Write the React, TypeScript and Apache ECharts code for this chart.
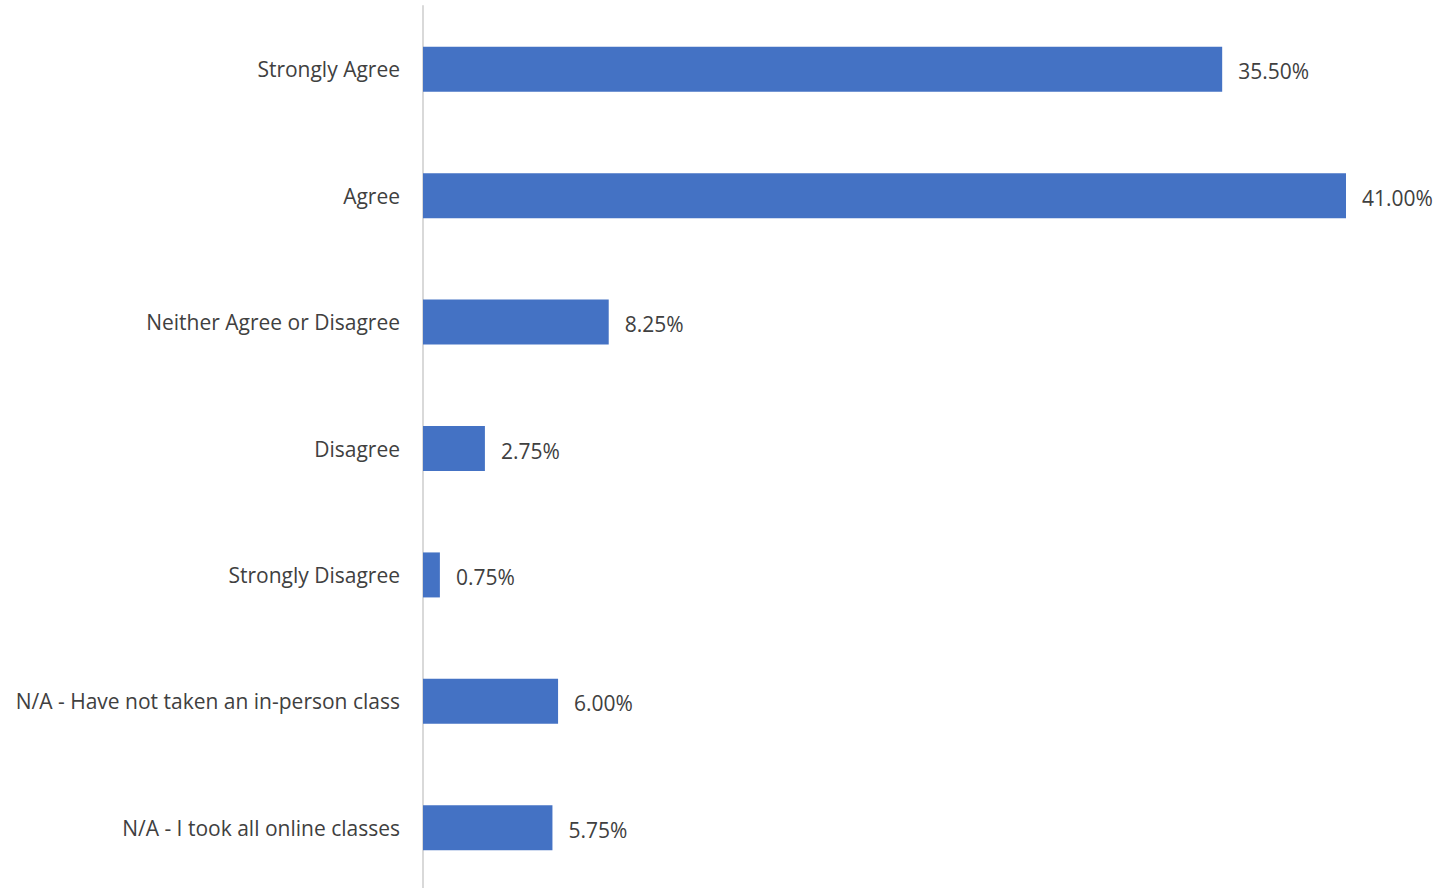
import React, { useEffect, useRef } from "react";
import * as echarts from "echarts";

const categories = [
  "Strongly Agree",
  "Agree",
  "Neither Agree or Disagree",
  "Disagree",
  "Strongly Disagree",
  "N/A - Have not taken an in-person class",
  "N/A - I took all online classes",
];
const values = [35.5, 41.0, 8.25, 2.75, 0.75, 6.0, 5.75];

export default function App() {
  const ref = useRef<HTMLDivElement>(null);
  useEffect(() => {
    const chart = echarts.init(ref.current!, null, { renderer: "svg" });
    chart.setOption({
      animation: false,
      backgroundColor: "#ffffff",
      grid: { left: 423, right: 93, top: 6, height: 885 },
      xAxis: {
        type: "value",
        min: 0,
        max: 41,
        show: false,
      },
      yAxis: {
        type: "category",
        data: categories,
        inverse: true,
        axisLine: { show: true, lineStyle: { color: "#d9d9d9", width: 2 } },
        axisTick: { show: false },
        axisLabel: {
          margin: 23,
          color: "#404040",
          fontSize: 21,
          fontFamily: "Open Sans",
        },
      },
      series: [
        {
          type: "bar",
          data: values,
          barWidth: 45,
          itemStyle: { color: "#4472C4" },
          label: {
            show: true,
            position: "right",
            distance: 16,
            offset: [0, 2],
            color: "#404040",
            fontSize: 21,
            fontFamily: "Open Sans",
            formatter: (p: any) => p.value.toFixed(2) + "%",
          },
        },
      ],
    });
    return () => chart.dispose();
  }, []);
  return (
    <div
      ref={ref}
      style={{ position: "fixed", left: 0, top: 0, width: 1439, height: 900 }}
    />
  );
}
